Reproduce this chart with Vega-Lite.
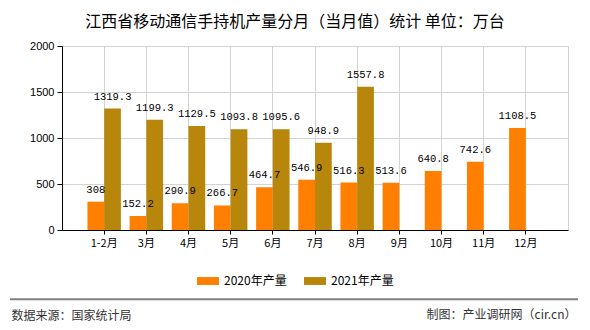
{
  "$schema": "https://vega.github.io/schema/vega-lite/v6.json",
  "width": 506,
  "height": 184,
  "autosize": "none",
  "padding": {"left": 62, "top": 46, "right": 22, "bottom": 100},
  "background": "white",
  "title": {
    "text": "江西省移动通信手持机产量分月（当月值）统计 单位：万台",
    "font": "Noto Sans CJK SC",
    "fontSize": 16,
    "fontWeight": "normal",
    "color": "#000000",
    "anchor": "middle",
    "dx": -20,
    "offset": 10
  },
  "config": {
    "view": {"stroke": "#d3d3d3"},
    "axis": {"labelColor": "#000000", "domainColor": "#000000", "tickColor": "#000000", "gridColor": "#d3d3d3"}
  },
  "layer": [
    {
      "data": {
        "values": [
          {"month": "1-2月", "series": "2020年产量", "value": 308},
          {"month": "1-2月", "series": "2021年产量", "value": 1319.3},
          {"month": "3月", "series": "2020年产量", "value": 152.2},
          {"month": "3月", "series": "2021年产量", "value": 1199.3},
          {"month": "4月", "series": "2020年产量", "value": 290.9},
          {"month": "4月", "series": "2021年产量", "value": 1129.5},
          {"month": "5月", "series": "2020年产量", "value": 266.7},
          {"month": "5月", "series": "2021年产量", "value": 1093.8},
          {"month": "6月", "series": "2020年产量", "value": 464.7},
          {"month": "6月", "series": "2021年产量", "value": 1095.6},
          {"month": "7月", "series": "2020年产量", "value": 546.9},
          {"month": "7月", "series": "2021年产量", "value": 948.9},
          {"month": "8月", "series": "2020年产量", "value": 516.3},
          {"month": "8月", "series": "2021年产量", "value": 1557.8},
          {"month": "9月", "series": "2020年产量", "value": 513.6},
          {"month": "10月", "series": "2020年产量", "value": 640.8},
          {"month": "11月", "series": "2020年产量", "value": 742.6},
          {"month": "12月", "series": "2020年产量", "value": 1108.5}
        ]
      },
      "encoding": {
        "x": {
          "field": "month",
          "type": "nominal",
          "sort": null,
          "scale": {"paddingInner": 0, "paddingOuter": 0.5},
          "axis": {
            "labelAngle": 0,
            "labelFont": "Noto Sans CJK SC",
            "labelFontSize": 11,
            "labelPadding": 3,
            "tickSize": 4,
            "grid": true,
            "title": "数据来源：国家统计局",
            "titleFont": "Noto Sans CJK SC",
            "titleFontSize": 12,
            "titleFontWeight": "normal",
            "titleColor": "#333333",
            "titleAlign": "left",
            "titleAnchor": "start",
            "titleBaseline": "middle",
            "titleX": -51,
            "titleY": 85
          }
        },
        "xOffset": {"field": "series", "scale": {"paddingInner": 0, "paddingOuter": 0.26}},
        "y": {
          "field": "value",
          "type": "quantitative",
          "scale": {"domain": [0, 2000]},
          "axis": {
            "values": [0, 500, 1000, 1500, 2000],
            "format": "d",
            "labelFont": "Liberation Sans",
            "labelFontSize": 11,
            "tickSize": 5,
            "labelPadding": 3,
            "title": null
          }
        }
      },
      "layer": [
        {
          "mark": {"type": "bar"},
          "encoding": {
            "color": {
              "field": "series",
              "type": "nominal",
              "scale": {"range": ["#FF8000", "#B8860B"]},
              "legend": {
                "title": null,
                "orient": "none",
                "direction": "horizontal",
                "legendX": 135,
                "legendY": 224,
                "symbolType": "M-1,-0.36H1V0.36H-1Z",
                "symbolSize": 484,
                "symbolStrokeWidth": 0,
                "labelFont": "Noto Sans CJK SC",
                "labelFontSize": 12,
                "labelColor": "#000000",
                "labelOffset": 5,
                "columnPadding": 17
              }
            }
          }
        },
        {
          "mark": {"type": "text", "baseline": "alphabetic", "dy": -9, "font": "Liberation Mono", "fontSize": 10.5, "color": "#000000"},
          "encoding": {
            "text": {"field": "value", "type": "quantitative"}
          }
        }
      ]
    },
    {
      "data": {"values": [{"ly": -0.371, "ly2": -0.382, "lx1": -0.1028, "lx2": 1.0198}]},
      "mark": {"type": "rect", "color": "#808080", "clip": false},
      "encoding": {
        "x": {"field": "lx1", "type": "quantitative", "scale": {"domain": [0, 1], "zero": false, "nice": false}, "axis": null},
        "x2": {"field": "lx2"},
        "y": {
          "field": "ly",
          "type": "quantitative",
          "scale": {"domain": [0, 1], "zero": false, "nice": false},
          "axis": {
            "orient": "right",
            "labels": false,
            "ticks": false,
            "domain": false,
            "grid": false,
            "title": "制图：产业调研网（cir.cn）",
            "titleFont": "Noto Sans CJK SC",
            "titleFontSize": 12,
            "titleFontWeight": "normal",
            "titleColor": "#333333",
            "titleAngle": 0,
            "titleAlign": "right",
            "titleBaseline": "middle",
            "titleX": 8,
            "titleY": 268
          }
        },
        "y2": {"field": "ly2"}
      }
    }
  ],
  "resolve": {"scale": {"x": "independent", "y": "independent"}}
}
